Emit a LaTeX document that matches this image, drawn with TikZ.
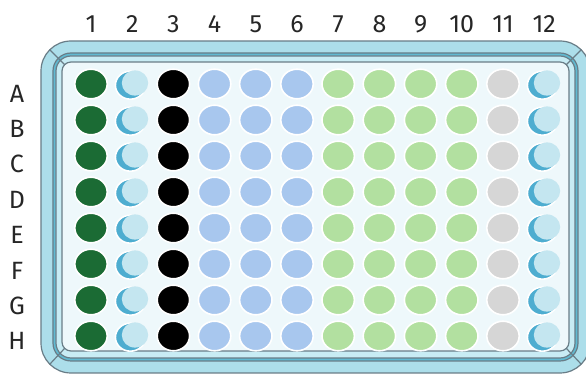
\documentclass[tikz,border=0pt]{standalone}
\usepackage{fontspec}
\setmainfont{Fira Sans}
\usepackage{tikz}

\definecolor{plateedge}{RGB}{105,125,135}
\definecolor{bandout}{RGB}{172,222,234}
\definecolor{banddark}{RGB}{96,186,210}
\definecolor{bandin}{RGB}{200,236,244}
\definecolor{platefield}{RGB}{238,248,251}
\definecolor{dkgreen}{RGB}{27,107,52}
\definecolor{skyblue}{RGB}{168,199,238}
\definecolor{lgreen}{RGB}{178,224,160}
\definecolor{lgray}{RGB}{214,214,214}
\definecolor{moondark}{RGB}{78,173,208}
\definecolor{moonlight}{RGB}{196,230,240}

\tikzset{
  well/.style={draw=white, line width=0.8},
  lbl/.style={font=\fontsize{12.5}{14}\selectfont, text=black!85},
  rim/.style={draw=plateedge, line width=0.6}
}

\begin{document}
\begin{tikzpicture}[x=0.5pt, y=-0.5pt]
\clip (0,0) rectangle (586,374);

% plate
\filldraw[rim, fill=bandout, rounded corners=15pt] (41,41) rectangle (590,373);
\filldraw[rim, fill=banddark, rounded corners=9pt] (53,53) rectangle (578,361);
\filldraw[rim, fill=bandin, rounded corners=7.5pt] (56,56) rectangle (575,358);
\filldraw[rim, fill=platefield, rounded corners=4.5pt] (62,62) rectangle (569,351);

\draw[rim] (49.8,49.8) -- (64.6,64.6);
\draw[rim] (581.2,49.8) -- (566.4,64.6);
\draw[rim] (581.2,364.2) -- (566.4,348.4);
\draw[rim] (49.8,364.2) -- (64.6,348.4);

% wells
\foreach \j in {0,...,7} {
  \foreach \i/\wc in {1/dkgreen,3/black,4/skyblue,5/skyblue,6/skyblue,7/lgreen,8/lgreen,9/lgreen,10/lgreen,11/lgray} {
    \filldraw[well, fill=\wc] (49.8+41.2*\i, 84+36*\j) ellipse [x radius=16.2, y radius=14.8];
  }
  \foreach \i in {2,12} {
    \filldraw[well, fill=moondark] (48+41.2*\i, 85.2+36*\j) ellipse [x radius=15, y radius=14];
    \fill[moonlight] (52.6+41.2*\i, 83+36*\j) ellipse [x radius=13.2, y radius=12.6];
  }
}

% labels
\foreach \i in {1,...,12}
  \node[lbl] (col\i) at (49.8+41.2*\i, 24) {\i};
\foreach \r [count=\j from 0] in {A,...,H}
  \node[lbl] (row\r) at (17, 93.5+35.4*\j) {\r};

\end{tikzpicture}
\end{document}
